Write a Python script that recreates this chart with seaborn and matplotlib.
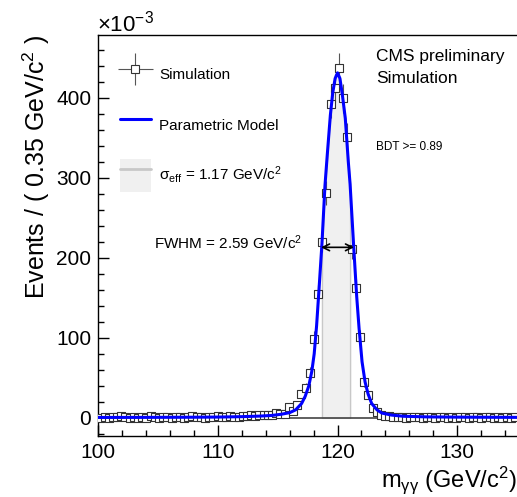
import numpy as np
import seaborn as sns
import matplotlib
matplotlib.use('Agg')
from matplotlib import pyplot as plt
from matplotlib.ticker import MultipleLocator
from matplotlib.lines import Line2D
from matplotlib.patches import Patch
from matplotlib.container import ErrorbarContainer
from matplotlib.legend_handler import HandlerErrorbar, HandlerTuple

# binning of the diphoton mass histogram (GeV/c^2)
mass_lo = 100.0
mass_hi = 135.0
n_bins = 100

# simulated events per bin, in units of 1e-3
sim_events = [0, 1, 0, 1, 1, 2, 1, 0, 1, 0,
              1, 0, 2, 1, 0, 1, 1, 0, 1, 1,
              0, 1, 2, 1, 1, 0, 1, 1, 2, 1,
              1, 2, 1, 1, 2, 2, 3, 2, 3, 3,
              4, 3, 6, 5, 5, 14, 8, 16, 30, 37,
              56, 99, 155, 220, 281, 392, 412, 437, 399, 351,
              211, 162, 101, 45, 29, 12, 7, 4, 2, 2,
              1, 1, 1, 0, 1, 1, 1, 0, 1, 1,
              0, 1, 1, 0, 1, 0, 1, 1, 0, 1,
              1, 0, 1, 1, 0, 1, 0, 1, 0, 1]
sim_errors = [1, 1, 1, 1, 1, 1, 1, 1, 1, 1,
              1, 1, 1, 1, 1, 1, 1, 1, 1, 1,
              1, 1, 1, 1, 1, 1, 1, 1, 1, 1,
              1, 1, 1, 1, 1, 1, 1, 1, 1, 1,
              2, 2, 2, 2, 2, 3, 3, 4, 5, 6,
              7, 9, 11, 13, 15, 17, 18, 19, 18, 17,
              13, 11, 9, 6, 5, 3, 2, 2, 1, 1,
              1, 1, 1, 1, 1, 1, 1, 1, 1, 1,
              1, 1, 1, 1, 1, 1, 1, 1, 1, 1,
              1, 1, 1, 1, 1, 1, 1, 1, 1, 1]

# parametric model curve
model_mass = [100.0, 104.0, 108.0, 110.0, 112.0, 113.5, 114.5, 115.3, 116.0, 116.5,
              117.0, 117.3, 117.6, 117.85, 118.05, 118.25, 118.45, 118.7, 118.95, 119.15,
              119.4, 119.6, 119.8, 120.0, 120.2, 120.4, 120.65, 120.9, 121.05, 121.35,
              121.6, 121.8, 122.05, 122.3, 122.55, 122.85, 123.3, 123.7, 124.5, 125.5,
              127.5, 130.0, 135.0]
model_events = [0.5, 0.6, 0.8, 1.0, 1.5, 2.2, 3.0, 4.5, 6.5, 10,
                18, 27, 40, 58, 80, 115, 160, 218, 290, 330,
                378, 406, 424, 431, 424, 404, 374, 320, 292, 214,
                152, 112, 70, 45, 30, 18, 10, 6, 3.5, 2,
                1.2, 0.9, 0.6]

sigma_eff_lo = 118.70
sigma_eff_hi = 121.05
fwhm_lo = 118.62
fwhm_hi = 121.38
fwhm_level = 213

sns.set_theme(style='ticks')
plt.rcParams['font.family'] = ['Liberation Sans', 'DejaVu Sans']
plt.rcParams['mathtext.default'] = 'regular'
plt.rcParams['text.color'] = 'black'
plt.rcParams['axes.labelcolor'] = 'black'
plt.rcParams['xtick.color'] = 'black'
plt.rcParams['ytick.color'] = 'black'

edges = np.linspace(mass_lo, mass_hi, n_bins + 1)
centers = 0.5 * (edges[1:] + edges[:-1])
model_mass = np.array(model_mass)
model_events = np.array(model_events)

fig = plt.figure(figsize=(5.17, 4.97), dpi=100)
ax = fig.add_axes([0.19, 0.123, 0.81, 0.807])

# sigma_eff band under the model
band = (model_mass >= sigma_eff_lo) & (model_mass <= sigma_eff_hi)
ax.fill_between(model_mass[band], 0, model_events[band], facecolor='#f0f0f0',
                edgecolor='#c8c8c8', lw=1, zorder=1)
ax.axhline(0, color='#444444', lw=1.2, zorder=2)

ax.errorbar(centers, sim_events, yerr=sim_errors, fmt='none', ecolor='#555555',
            elinewidth=0.8, zorder=3)
sns.scatterplot(x=centers, y=sim_events, marker='s', s=40, facecolor='white',
                edgecolor='#333333', linewidth=0.8, zorder=4, ax=ax)
sns.lineplot(x=model_mass, y=model_events, color='blue', lw=2.2, zorder=5,
             sort=False, estimator=None, ax=ax)

ax.annotate('', xy=(fwhm_lo, fwhm_level), xytext=(fwhm_hi, fwhm_level),
            arrowprops=dict(arrowstyle='<->', color='black', lw=1.2,
                            mutation_scale=12, shrinkA=0, shrinkB=0), zorder=6)
ax.text(117.1, fwhm_level - 2, 'FWHM = 2.59 GeV/c$^{2}$', ha='right',
        va='baseline', fontsize=11)

ax.text(0.663, 0.935, 'CMS preliminary', transform=ax.transAxes, fontsize=12.5,
        va='baseline')
ax.text(0.663, 0.880, 'Simulation', transform=ax.transAxes, fontsize=12.5,
        va='baseline')
ax.text(0.663, 0.713, 'BDT >= 0.89', transform=ax.transAxes, fontsize=8.5,
        va='baseline')
ax.text(-0.002, 1.0075, r'$\times$10$^{-3}$', transform=ax.transAxes,
        fontsize=16, va='baseline', ha='left')

# legend
sim_handle = ax.errorbar([np.nan], [np.nan], xerr=[1], yerr=[1], fmt='s', ms=6,
                         mfc='white', mec='#333333', mew=0.8, ecolor='#555555',
                         elinewidth=0.8)
model_handle = Line2D([], [], color='blue', lw=2.2)
band_handle = (Patch(facecolor='#f0f0f0', edgecolor='none'),
               Line2D([], [], color='#c8c8c8', lw=2))
ax.legend([sim_handle, model_handle, band_handle],
          ['Simulation', 'Parametric Model', r'$\sigma_{eff}$ = 1.17 GeV/c$^{2}$'],
          handler_map={ErrorbarContainer: HandlerErrorbar(xerr_size=1.15, yerr_size=1.05),
                       tuple: HandlerTuple(ndivide=1, pad=0)},
          loc='upper left', bbox_to_anchor=(0.0525, 0.942), borderaxespad=0,
          borderpad=0, frameon=False, fontsize=11, handlelength=2.0,
          handleheight=3.0, labelspacing=1.1, handletextpad=0.55)

ax.set_xlim(mass_lo, mass_hi)
ax.set_ylim(-22.5, 478.5)
ax.xaxis.set_major_locator(MultipleLocator(10))
ax.xaxis.set_minor_locator(MultipleLocator(2))
ax.yaxis.set_major_locator(MultipleLocator(100))
ax.yaxis.set_minor_locator(MultipleLocator(20))
ax.tick_params(which='both', direction='in', labelsize=15, colors='black', pad=5)
ax.tick_params(which='major', length=8, width=1)
ax.tick_params(which='minor', length=4, width=1)
for side in ['left', 'bottom', 'top']:
    ax.spines[side].set_color('black')
    ax.spines[side].set_linewidth(1)
ax.spines['right'].set_visible(False)

ax.set_xlabel(r'm$_{\gamma\gamma}$ (GeV/c$^{2}$)', loc='right', fontsize=17,
              labelpad=2, color='black')
ax.set_ylabel('Events / ( 0.35 GeV/c$^{2}$ )', loc='top', fontsize=18,
              labelpad=3, color='black')

fig.savefig('out.png', dpi=100)
plt.close(fig)
